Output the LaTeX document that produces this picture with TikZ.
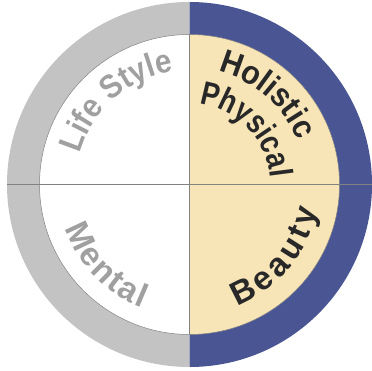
\documentclass[tikz,border=0pt]{standalone}
\usepackage{fontspec}
\setmainfont{Liberation Sans}
\newfontfamily\fA{Liberation Sans}[FakeStretch=0.90]
\newfontfamily\fB{Liberation Sans}[FakeStretch=0.92]
\newfontfamily\fC{Liberation Sans}[FakeStretch=0.83]
\newfontfamily\fD{Liberation Sans}
\usetikzlibrary{decorations.text}
\definecolor{ringgray}{RGB}{195,195,195}
\definecolor{ringblue}{RGB}{74,86,148}
\definecolor{beige}{RGB}{247,228,183}
\definecolor{txtgray}{RGB}{160,160,160}
\definecolor{txtdark}{RGB}{40,40,40}
\definecolor{linegray}{RGB}{130,130,130}
\newcommand{\lblsize}{\bfseries\fontsize{33}{33}\selectfont}
\newcommand{\gp}[1]{{\hspace{#1}}}
\tikzset{
  curvelabel/.style n args={3}{decorate, decoration={text along path, text align=center,
    text color=#1, text={|#2\lblsize|#3}}},
  divider/.style={draw=linegray, line width=1.2pt}
}
\begin{document}
\begin{tikzpicture}[x=1pt,y=1pt]
\useasboundingbox (-189.5,-186.5) rectangle (182.5,184.5);
\coordinate (c) at (0,0);
% outer ring halves
\fill[ringgray] (0,182.5) arc[start angle=90, end angle=270, radius=182.5] -- cycle;
\fill[ringblue] (0,-182.5) arc[start angle=-90, end angle=90, radius=182.5] -- cycle;
% inner disk halves
\fill[white] (0,150) arc[start angle=90, end angle=270, radius=150] -- cycle;
\fill[beige] (0,-150) arc[start angle=-90, end angle=90, radius=150] -- cycle;
\draw[linegray, line width=0.5pt] (c) circle[radius=150];
% dividers
\coordinate (l) at (-182.5,0);
\coordinate (r) at (182.5,0);
\coordinate (t) at (0,150);
\coordinate (b) at (0,-150);
\draw[divider] (l) -- (r);
\draw[divider] (t) -- (b);
% labels
\path[curvelabel={txtgray}{\fA}{Life{ }Style}] (191:114) arc[start angle=191, end angle=71, radius=114];
\path[curvelabel={txtdark}{\fB}{Holistic}] (109:117) arc[start angle=109, end angle=-11, radius=117];
\path[curvelabel={txtdark}{\fC}{Physical}] (114:81) arc[start angle=114, end angle=-26, radius=81];
\path[curvelabel={txtgray}{\fD}{M{\hspace{2pt}}e{\hspace{2pt}}n{\hspace{2pt}}t{\hspace{2pt}}a{\hspace{2pt}}l}] (164:132) arc[start angle=164, end angle=284, radius=132];
\path[curvelabel={txtdark}{\fD}{B{\hspace{4pt}}e{\hspace{4pt}}a{\hspace{4pt}}u{\hspace{4pt}}t{\hspace{4pt}}y}] (-100:130) arc[start angle=-100, end angle=20, radius=130];
\end{tikzpicture}
\end{document}
